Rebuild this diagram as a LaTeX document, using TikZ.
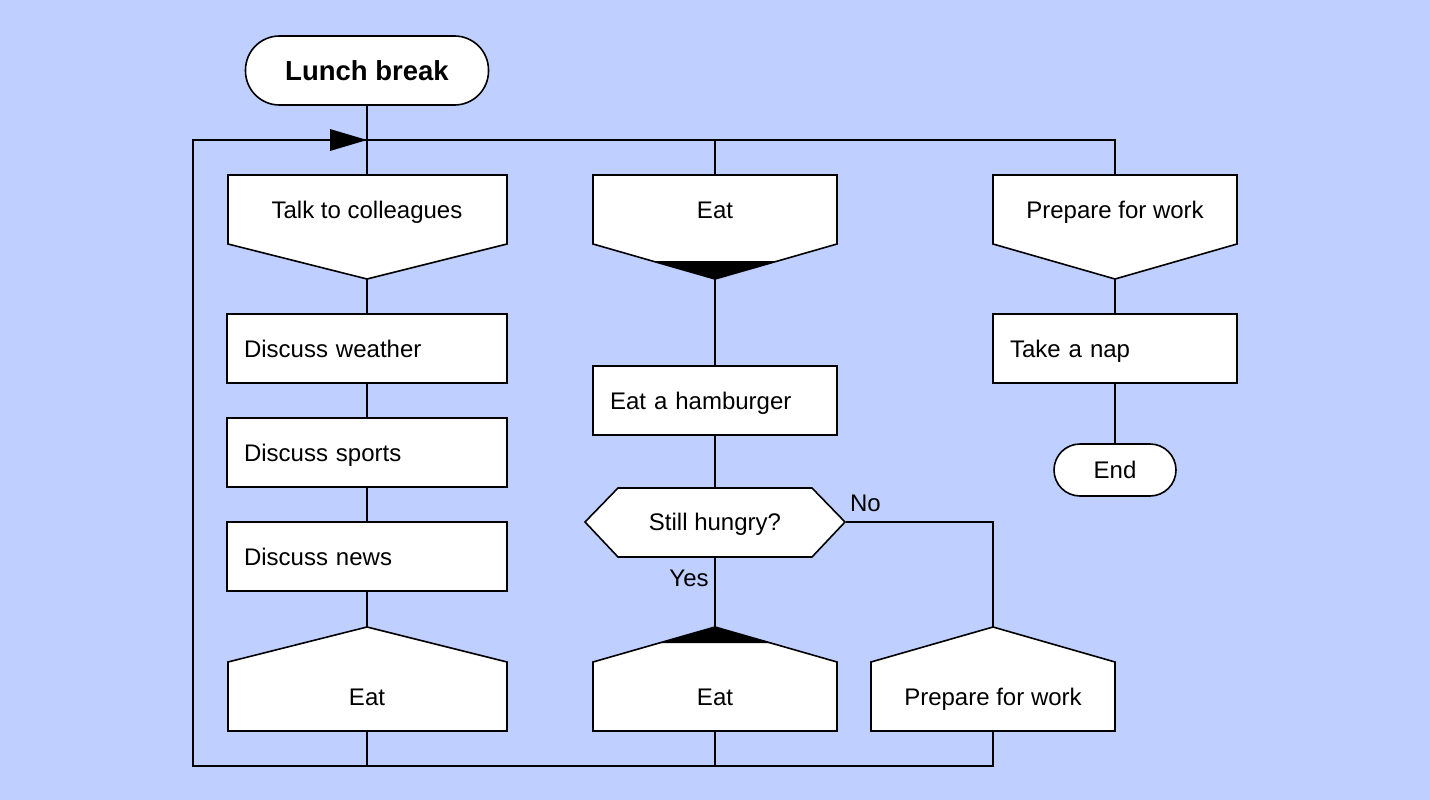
\documentclass[tikz,border=0pt]{standalone}
\usepackage{fontspec}
\setmainfont{Liberation Sans}
\usetikzlibrary{calc}
\definecolor{bgblue}{RGB}{191,207,255}
\begin{document}
\begin{tikzpicture}[x=1pt,y=-1pt,line width=1.6pt,
  shp/.style={draw=black,fill=white,line width=1.6pt,line join=miter},
  txt/.style={inner sep=0pt,font=\fontsize{24}{28}\selectfont},
  body/.style={inner sep=0pt,minimum height=69pt,text height=17pt,text depth=0pt,font=\fontsize{24}{28}\selectfont},
  rectbox/.style={draw=black,fill=white,inner xsep=17pt,inner ysep=0pt,minimum height=69pt,text height=17pt,text depth=0pt,align=left,font=\fontsize{24}{28}\selectfont},
  term/.style={draw=black,fill=white,inner sep=0pt,text height=17pt,text depth=0pt,font=\fontsize{24}{28}\selectfont}]
\fill[bgblue] (0,0) rectangle (1430,800);
\useasboundingbox (0,0) rectangle (1430,800);

% start
\node[term,rounded corners=34pt,minimum width=243pt,minimum height=69pt,text height=19.5pt,font=\fontsize{27.5}{32}\selectfont\bfseries] (lunch) at (367,70.5) {Lunch break};

% branch headers
\path[shp] (228,175) -- (507,175) -- (507,244) -- (367,279) -- (228,244) -- cycle;
\node[body,minimum width=279pt] (talk) at (367,209.5) {Talk to colleagues};
\coordinate (talktip) at (367,279);

\path[shp] (593,175) -- (837,175) -- (837,244) -- (715,279) -- (593,244) -- cycle;
\fill[black] (652.5,261) -- (777.5,261) -- (715,279) -- cycle;
\node[body,minimum width=244pt] (eattop) at (715,209.5) {Eat};
\coordinate (eattoptip) at (715,279);

\path[shp] (993,175) -- (1237,175) -- (1237,244) -- (1115,279) -- (993,244) -- cycle;
\node[body,minimum width=244pt] (prepA) at (1115,209.5) {Prepare for work};
\coordinate (prepAtip) at (1115,279);

% actions
\node[rectbox,text width=246pt] (weather) at (367,348.5) {Discuss weather};
\node[rectbox,text width=246pt] (sports) at (367,452.5) {Discuss sports};
\node[rectbox,text width=246pt] (news) at (367,556.5) {Discuss news};
\node[rectbox,text width=210pt] (hamb) at (715,400.5) {Eat a hamburger};
\node[rectbox,text width=210pt] (nap) at (1115,348.5) {Take a nap};

% question
\path[shp] (585,522) -- (618,488) -- (812,488) -- (845,522) -- (812,557) -- (618,557) -- cycle;
\node[body,minimum width=260pt] (hungry) at (715,522) {Still hungry?};

% addresses
\path[shp] (228,731) -- (228,662) -- (367,627) -- (507,662) -- (507,731) -- cycle;
\node[body,minimum width=279pt] (eatA) at (367,696.5) {Eat};
\coordinate (eatAtip) at (367,627);

\path[shp] (593,731) -- (593,662) -- (715,627) -- (837,662) -- (837,731) -- cycle;
\fill[black] (659,643) -- (771,643) -- (715,627) -- cycle;
\node[body,minimum width=244pt] (eatB) at (715,696.5) {Eat};
\coordinate (eatBtip) at (715,627);

\path[shp] (871,731) -- (871,662) -- (993,627) -- (1115,662) -- (1115,731) -- cycle;
\node[body,minimum width=244pt] (prepB) at (993,696.5) {Prepare for work};
\coordinate (prepBtip) at (993,627);

% end
\node[term,rounded corners=26pt,minimum width=122pt,minimum height=52pt] (end) at (1115,470) {End};

% connectors
\coordinate (bl) at (193,766);
\coordinate (tl) at (193,140);
\draw (lunch) -- (talk);
\draw (talktip) -- (weather);
\draw (weather) -- (sports);
\draw (sports) -- (news);
\draw (news) -- (eatAtip);
\draw (eattoptip) -- (hamb);
\draw (hamb) -- (hungry);
\draw (hungry) -- (eatBtip);
\draw (hungry.east) -| (prepBtip);
\draw (prepAtip) -- (nap);
\draw (nap) -- (end);
\draw (prepB) |- (bl) -- (tl) -| (prepA);
\draw (eatA) -- (eatA |- bl);
\draw (eatB) -- (eatB |- bl);
\draw (eattop) -- (eattop |- tl);
\fill[black] (330,129) -- (367,140) -- (330,151) -- cycle;

% labels
\node[txt] (nolbl) at (865.5,503) {No};
\node[txt] (yeslbl) at (689,578) {Yes};
\end{tikzpicture}
\end{document}
